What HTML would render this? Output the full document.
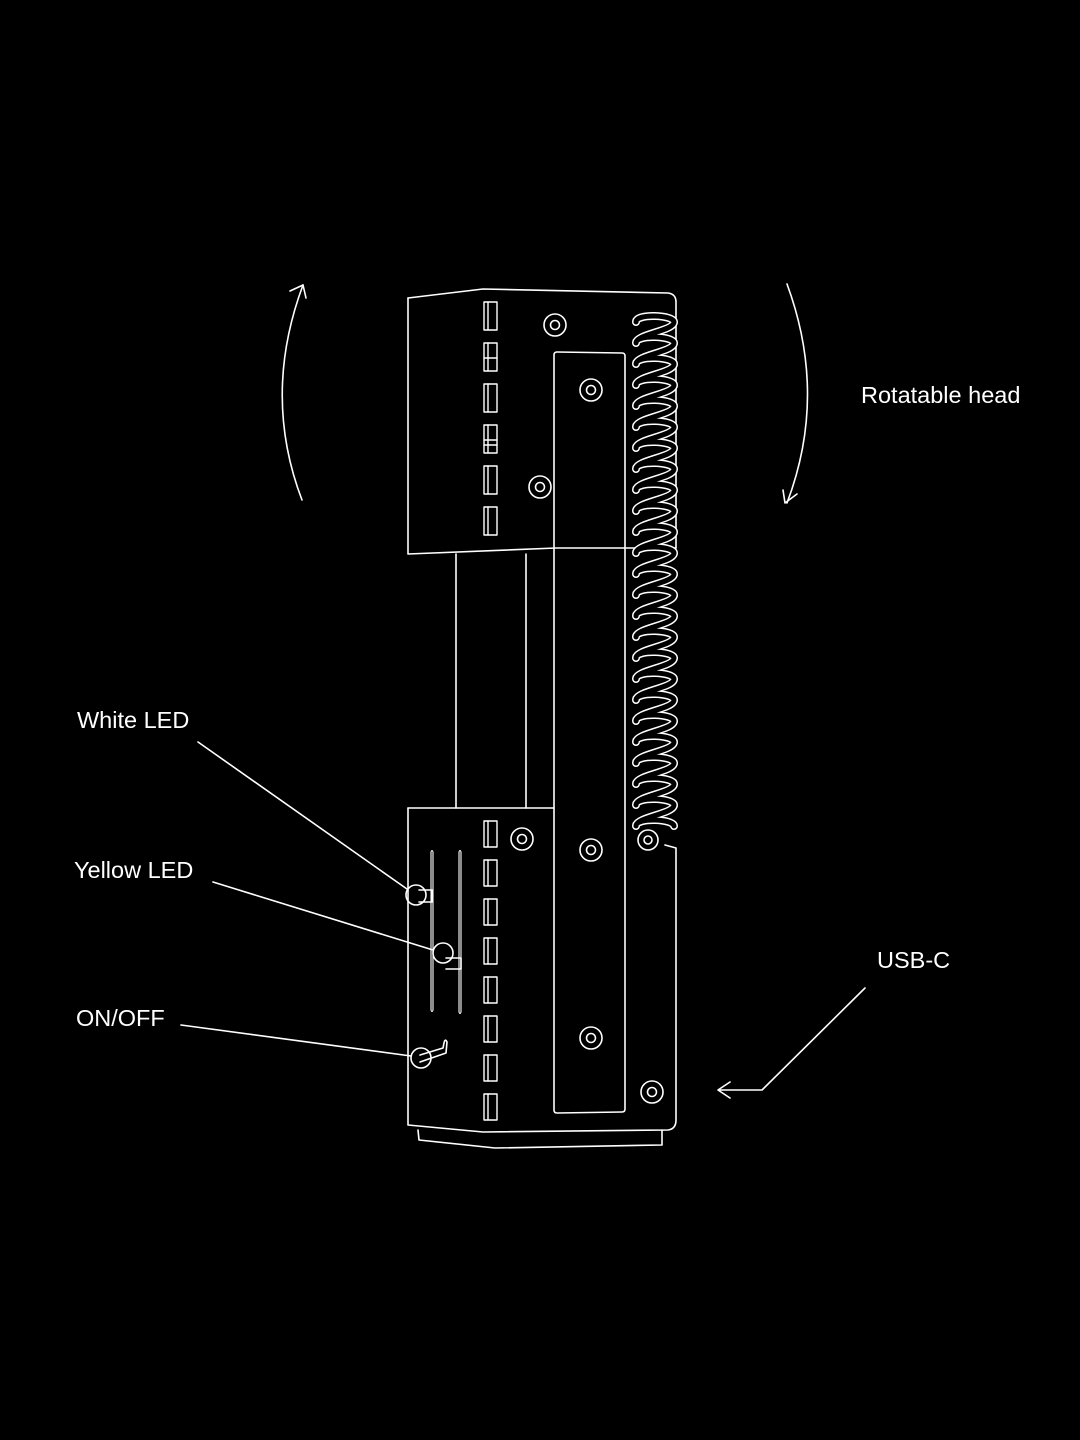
<!DOCTYPE html>
<html><head><style>
html,body{margin:0;padding:0;background:#000;}
svg{display:block}
text{font-family:"Liberation Sans",sans-serif;font-size:23.5px;fill:#fff}
</style></head><body>
<svg width="1080" height="1440" viewBox="0 0 1080 1440" xmlns="http://www.w3.org/2000/svg">
<defs>
<path id="sp" d="M636 322 c0 -9 38 -7 38 0 c0 9 -38 12 -38 21 c0 -9 38 -7 38 0 c0 9 -38 12 -38 21 c0 -9 38 -7 38 0 c0 9 -38 12 -38 21 c0 -9 38 -7 38 0 c0 9 -38 12 -38 21 c0 -9 38 -7 38 0 c0 9 -38 12 -38 21 c0 -9 38 -7 38 0 c0 9 -38 12 -38 21 c0 -9 38 -7 38 0 c0 9 -38 12 -38 21 c0 -9 38 -7 38 0 c0 9 -38 12 -38 21 c0 -9 38 -7 38 0 c0 9 -38 12 -38 21 c0 -9 38 -7 38 0 c0 9 -38 12 -38 21 c0 -9 38 -7 38 0 c0 9 -38 12 -38 21 c0 -9 38 -7 38 0 c0 9 -38 12 -38 21 c0 -9 38 -7 38 0 c0 9 -38 12 -38 21 c0 -9 38 -7 38 0 c0 9 -38 12 -38 21 c0 -9 38 -7 38 0 c0 9 -38 12 -38 21 c0 -9 38 -7 38 0 c0 9 -38 12 -38 21 c0 -9 38 -7 38 0 c0 9 -38 12 -38 21 c0 -9 38 -7 38 0 c0 9 -38 12 -38 21 c0 -9 38 -7 38 0 c0 9 -38 12 -38 21 c0 -9 38 -7 38 0 c0 9 -38 12 -38 21 c0 -9 38 -7 38 0 c0 9 -38 12 -38 21 c0 -9 38 -7 38 0 c0 9 -38 12 -38 21 c0 -9 38 -7 38 0 c0 9 -38 12 -38 21 c0 -9 38 -7 38 0 c0 9 -38 12 -38 21 c0 -9 38 -7 38 0"/>
</defs>
<rect width="1080" height="1440" fill="#000"/>
<g fill="none" stroke="#fff" stroke-width="1.6" stroke-linejoin="round" stroke-linecap="round">
<path d="M302 500 Q262 395 303 285"/>
<path d="M290 291 L303 285 L306 298"/>
<path d="M787 284 Q828 395 787 503"/>
<path d="M783 490 L785 503 L797 494"/>
<path d="M408 298 L483 289 L668 293 Q676 294 676 302 L676 548"/>
<path d="M408 298 L408 554 L556 548 L676 548"/>
<path d="M456 554 L456 808 M526 554 L526 808"/>
<path d="M554 355 Q554 352 557 352 L622 353 Q625 353 625 356 L625 1109 Q625 1112 622 1112 L557 1113 Q554 1113 554 1110 Z"/>
<path d="M408 808 L554 808"/>
<path d="M408 808 L408 1125 L483 1132 L668 1130 Q676 1129 676 1120 L676 848 L665 845"/>
<path d="M418 1130 L419 1140 L495 1148 L662 1145 L662 1130"/>
<g stroke-width="1.4">
<rect x="484" y="302" width="13" height="28"/><rect x="484" y="343" width="13" height="28"/>
<rect x="484" y="384" width="13" height="28"/><rect x="484" y="425" width="13" height="28"/>
<rect x="484" y="466" width="13" height="28"/><rect x="484" y="507" width="13" height="28"/>
<path d="M488 302v28M488 343v28M488 384v28M488 425v28M488 466v28M488 507v28M484 358h13M484 440h13M484 445h13"/>
<rect x="484" y="821" width="13" height="26"/><rect x="484" y="860" width="13" height="26"/>
<rect x="484" y="899" width="13" height="26"/><rect x="484" y="938" width="13" height="26"/>
<rect x="484" y="977" width="13" height="26"/><rect x="484" y="1016" width="13" height="26"/>
<rect x="484" y="1055" width="13" height="26"/><rect x="484" y="1094" width="13" height="26"/>
<path d="M488 821v26M488 860v26M488 899v26M488 938v26M488 977v26M488 1016v26M488 1055v26M488 1094v26"/>
</g>
<g>
<circle cx="555" cy="325" r="11"/><circle cx="555" cy="325" r="4.5"/>
<circle cx="591" cy="390" r="11"/><circle cx="591" cy="390" r="4.5"/>
<circle cx="540" cy="487" r="11"/><circle cx="540" cy="487" r="4.5"/>
<circle cx="522" cy="839" r="11"/><circle cx="522" cy="839" r="4.5"/>
<circle cx="591" cy="850" r="11"/><circle cx="591" cy="850" r="4.5"/>
<circle cx="591" cy="1038" r="11"/><circle cx="591" cy="1038" r="4.5"/>
<circle cx="652" cy="1092" r="11"/><circle cx="652" cy="1092" r="4.5"/>
<circle cx="648" cy="840" r="10"/><circle cx="648" cy="840" r="4"/>
</g>
<use href="#sp" stroke="#fff" stroke-width="8"/>
<use href="#sp" stroke="#000" stroke-width="5"/>
<g stroke-width="1.1">
<path d="M431 852 L431 1010 Q432 1013 433 1010 L433 852 Q432 849 431 852 Z"/>
<path d="M459 852 L459 1012 Q460 1015 461 1012 L461 852 Q460 849 459 852 Z"/>
</g>
<circle cx="416" cy="895" r="10"/><path d="M419 890 h13 v12 h-13"/>
<circle cx="443" cy="953" r="10"/><path d="M446 958 h15 v11 h-15"/>
<circle cx="421" cy="1058" r="10"/><path d="M420 1062 L446 1053 L447 1042 Q445 1038 444 1043 L443 1048 L420 1055"/>
<path d="M198 742 L407 889"/>
<path d="M213 882 L433 950"/>
<path d="M181 1025 L411 1056"/>
<path d="M865 988 L762 1090 L718 1090 M730 1082 L718 1090 L730 1098"/>
</g>
<text x="861" y="403">Rotatable head</text>
<text x="77" y="728">White LED</text>
<text x="74" y="878">Yellow LED</text>
<text x="76" y="1026">ON/OFF</text>
<text x="877" y="968">USB-C</text>
</svg>
</body></html>
